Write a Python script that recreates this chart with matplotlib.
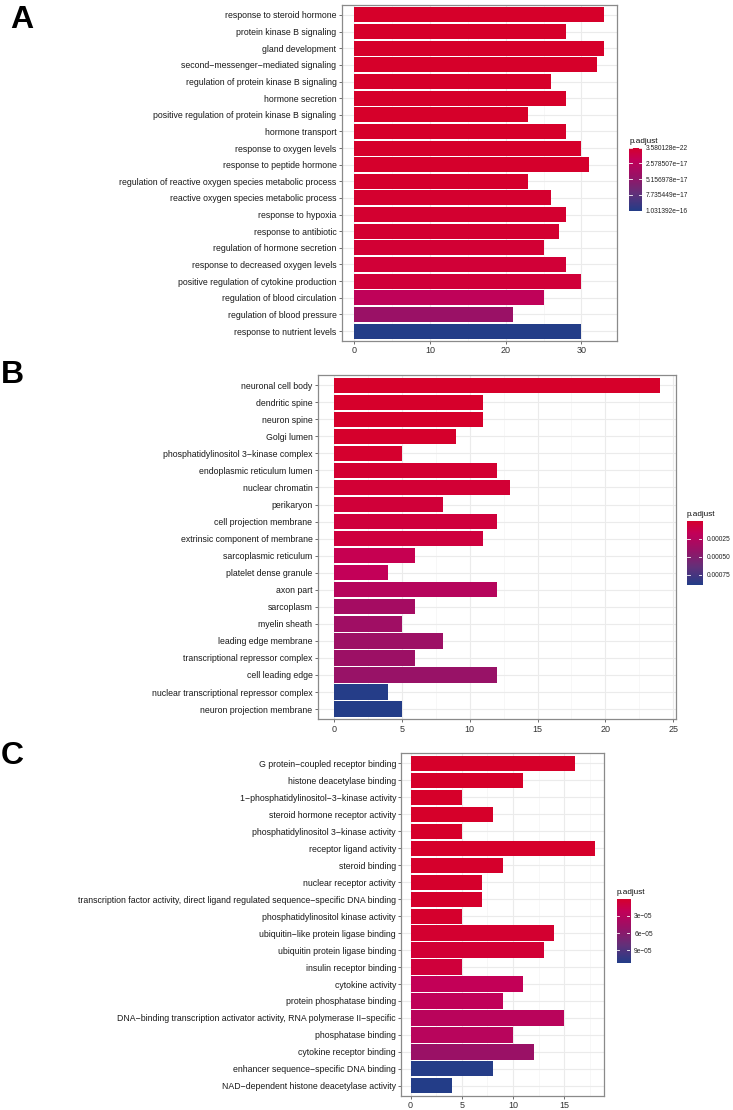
import numpy as np
import matplotlib
matplotlib.use("Agg")
import matplotlib.pyplot as plt
from matplotlib.colors import LinearSegmentedColormap, Normalize

plt.rcParams['font.family'] = ['Liberation Sans', 'DejaVu Sans']

# ---------------- data ----------------
A_terms = [
    "response to steroid hormone", "protein kinase B signaling", "gland development",
    "second\u2212messenger\u2212mediated signaling", "regulation of protein kinase B signaling",
    "hormone secretion", "positive regulation of protein kinase B signaling", "hormone transport",
    "response to oxygen levels", "response to peptide hormone",
    "regulation of reactive oxygen species metabolic process",
    "reactive oxygen species metabolic process", "response to hypoxia", "response to antibiotic",
    "regulation of hormone secretion", "response to decreased oxygen levels",
    "positive regulation of cytokine production", "regulation of blood circulation",
    "regulation of blood pressure", "response to nutrient levels",
]
A_counts = [33, 28, 33, 32, 26, 28, 23, 28, 30, 31, 23, 26, 28, 27, 25, 28, 30, 25, 21, 30]
A_padj = [3.580128e-22, 1.2e-21, 2.5e-21, 8.1e-21, 4.6e-20, 9.3e-20, 2.1e-19, 3.4e-19,
          6.2e-19, 8.8e-19, 1.5e-18, 2.2e-18, 2.9e-18, 3.6e-18, 4.5e-18, 5.8e-18,
          7.0e-18, 2.3e-17, 4.6e-17, 1.031392e-16]
A_leg_labels = ["3.580128e\u221222", "2.578507e\u221217", "5.156978e\u221217",
                "7.735449e\u221217", "1.031392e\u221216"]
A_xticks = [0, 10, 20, 30]

B_terms = [
    "neuronal cell body", "dendritic spine", "neuron spine", "Golgi lumen",
    "phosphatidylinositol 3\u2212kinase complex", "endoplasmic reticulum lumen",
    "nuclear chromatin", "perikaryon", "cell projection membrane",
    "extrinsic component of membrane", "sarcoplasmic reticulum", "platelet dense granule",
    "axon part", "sarcoplasm", "myelin sheath", "leading edge membrane",
    "transcriptional repressor complex", "cell leading edge",
    "nuclear transcriptional repressor complex", "neuron projection membrane",
]
B_counts = [24, 11, 11, 9, 5, 12, 13, 8, 12, 11, 6, 4, 12, 6, 5, 8, 6, 12, 4, 5]
B_padj = [1.2e-6, 5.0e-6, 5.0e-6, 9.5e-6, 1.8e-5, 3.6e-5, 4.5e-5, 6.3e-5, 7.2e-5, 8.1e-5,
          1.53e-4, 1.80e-4, 2.52e-4, 3.42e-4, 3.69e-4, 3.87e-4, 3.96e-4, 4.14e-4,
          8.90e-4, 8.97e-4]
B_leg_labels = ["0.00025", "0.00050", "0.00075"]
B_xticks = [0, 5, 10, 15, 20, 25]

C_terms = [
    "G protein\u2212coupled receptor binding", "histone deacetylase binding",
    "1\u2212phosphatidylinositol\u22123\u2212kinase activity", "steroid hormone receptor activity",
    "phosphatidylinositol 3\u2212kinase activity", "receptor ligand activity", "steroid binding",
    "nuclear receptor activity",
    "transcription factor activity, direct ligand regulated sequence\u2212specific DNA binding",
    "phosphatidylinositol kinase activity", "ubiquitin\u2212like protein ligase binding",
    "ubiquitin protein ligase binding", "insulin receptor binding", "cytokine activity",
    "protein phosphatase binding",
    "DNA\u2212binding transcription activator activity, RNA polymerase II\u2212specific",
    "phosphatase binding", "cytokine receptor binding",
    "enhancer sequence\u2212specific DNA binding", "NAD\u2212dependent histone deacetylase activity",
]
C_counts = [16, 11, 5, 8, 5, 18, 9, 7, 7, 5, 14, 13, 5, 11, 9, 15, 10, 12, 8, 4]
C_padj = [3.0e-7, 3.5e-7, 4.0e-7, 6.0e-7, 8.0e-7, 1.0e-6, 1.2e-6, 1.3e-6, 1.5e-6, 1.8e-6,
          3.4e-6, 5.6e-6, 9.0e-6, 2.26e-5, 2.49e-5, 2.94e-5, 3.05e-5, 5.1e-5,
          1.12e-4, 1.13e-4]
C_leg_labels = ["3e\u221205", "6e\u221205", "9e\u221205"]
C_xticks = [0, 5, 10, 15]

# ---------------- style ----------------
cmap = LinearSegmentedColormap.from_list(
    "padj", [(0.0, "#D6002A"), (0.2, "#C30058"), (0.45, "#9A1166"),
             (0.72, "#643079"), (1.0, "#233D88")])

W, H = 733, 1110
fig = plt.figure(figsize=(W / 100, H / 100), dpi=100)


def px_axes(l, t, r, b):
    return fig.add_axes([l / W, 1 - b / H, (r - l) / W, (b - t) / H])


def draw_panel(rect, terms, counts, padj, xticks, cb_rect, leg_labels, letter, letter_xy):
    ax = px_axes(*rect)
    n = len(terms)
    y = np.arange(n)[::-1]
    norm = Normalize(min(padj), max(padj))
    ax.barh(y, counts, height=0.9, color=cmap(norm(np.array(padj))), zorder=3)
    vmax = max(counts)
    ax.set_xlim(-0.05 * vmax, 1.05 * vmax)
    ax.set_ylim(-0.6, n - 0.4)
    ax.set_yticks(y)
    ax.set_yticklabels(terms, fontsize=6.3, color="#1a1a1a")
    ax.set_xticks(xticks)
    ax.set_xticklabels([str(t) for t in xticks], fontsize=6.5, color="#333333")
    step = xticks[1] - xticks[0]
    minor = [t + step / 2 for t in xticks if t + step / 2 < 1.05 * vmax]
    ax.set_xticks(minor, minor=True)
    ax.grid(which="major", color="#EBEBEB", lw=0.8, zorder=0)
    ax.grid(which="minor", axis="x", color="#F4F4F4", lw=0.5, zorder=0)
    ax.tick_params(axis="both", which="major", length=2.3, width=0.6, color="#555555", pad=1.5)
    ax.tick_params(axis="x", which="minor", length=0)
    ax.set_axisbelow(True)
    for s in ax.spines.values():
        s.set_color("#8A8A8A")
        s.set_linewidth(0.9)

    # colour bar legend
    pmin, pmax = min(padj), max(padj)
    cax = px_axes(*cb_rect)
    grad = np.linspace(0, 1, 256).reshape(-1, 1)
    cax.imshow(grad, aspect="auto", cmap=cmap, extent=(0, 1, pmax, pmin), origin="upper")
    cax.set_xlim(0, 1)
    cax.set_ylim(pmax, pmin)
    ticks = [float(s.replace("\u2212", "-")) for s in leg_labels]
    for t in ticks:
        cax.plot([0, 0.2], [t, t], color="white", lw=0.6)
        cax.plot([0.8, 1], [t, t], color="white", lw=0.6)
    cax.set_xticks([])
    cax.yaxis.tick_right()
    cax.set_yticks(ticks)
    cax.set_yticklabels(leg_labels, fontsize=4.8, color="#222222")
    cax.tick_params(axis="y", length=0, pad=3.0)
    for s in cax.spines.values():
        s.set_visible(False)
    l, t, r, b = cb_rect
    fig.text(l / W, 1 - (t - 2.5) / H, "p.adjust", fontsize=5.9, ha="left", va="bottom",
             color="#111111")

    fig.text(letter_xy[0] / W, 1 - letter_xy[1] / H, letter, fontsize=23, fontweight="bold",
             ha="left", va="baseline", color="black")


draw_panel((341.7, 5, 616.7, 341), A_terms, A_counts, A_padj, A_xticks,
           (629.3, 147.5, 641.8, 210.8), A_leg_labels, "A", (10.5, 28.3))
draw_panel((317.7, 375, 676, 719.3), B_terms, B_counts, B_padj, B_xticks,
           (686.7, 520.7, 702.3, 585.2), B_leg_labels, "B", (0.5, 383.3))
draw_panel((401.3, 753.3, 604.3, 1096), C_terms, C_counts, C_padj, C_xticks,
           (616.7, 899, 630, 963.3), C_leg_labels, "C", (0.3, 764.3))

fig.savefig("out.png", dpi=100, facecolor="white")
